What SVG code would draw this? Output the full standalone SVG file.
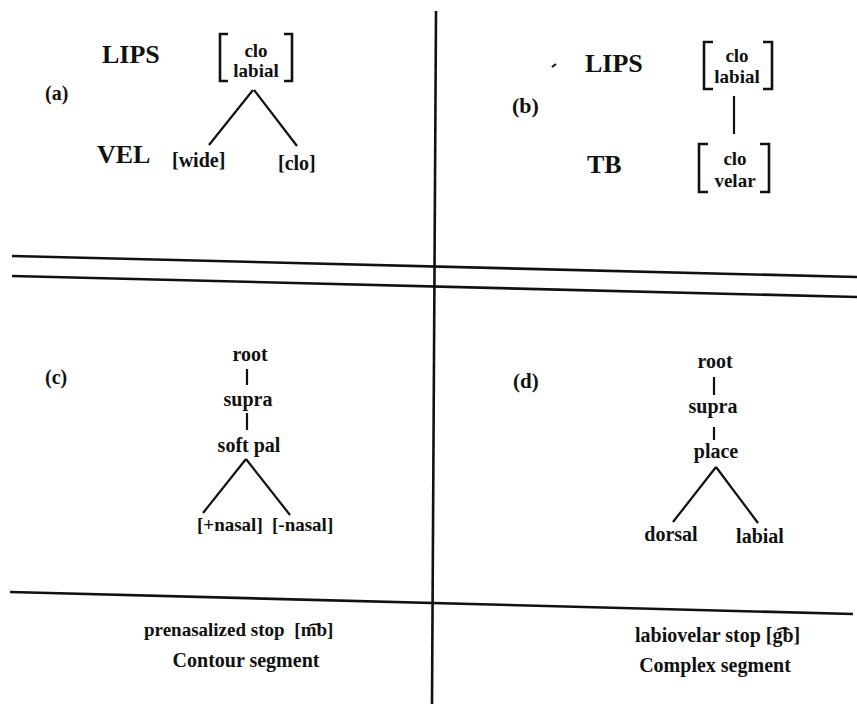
<svg xmlns="http://www.w3.org/2000/svg" width="857" height="704" viewBox="0 0 857 704">
<style>
text{font-family:"Liberation Serif","Times New Roman",serif;font-weight:bold;fill:#111}
.big{font-size:26px}
.lab{font-size:20px}
.tier{font-size:20px}
.feat{font-size:19px}
.br{fill:none;stroke:#111;stroke-width:2.6}
.edge{stroke:#111;stroke-width:2.2;fill:none}
.rule{stroke:#111;stroke-width:2.6;fill:none}
</style>
<rect width="857" height="704" fill="#fff"/>
<g id="rules">
<line class="rule" x1="436" y1="11" x2="432" y2="704"/>
<line class="rule" x1="12" y1="256" x2="857" y2="277"/>
<line class="rule" x1="12" y1="276" x2="857" y2="297"/>
<line class="rule" x1="10" y1="592" x2="853" y2="614"/>
</g>
<g id="connectors">
<line class="edge" x1="253" y1="90" x2="209" y2="145"/>
<line class="edge" x1="254" y1="90" x2="297" y2="146"/>
<line class="edge" x1="734" y1="96" x2="734" y2="134"/>
<line class="edge" x1="247" y1="369" x2="247" y2="385"/>
<line class="edge" x1="247" y1="413" x2="247" y2="430"/>
<line class="edge" x1="246" y1="459" x2="203" y2="513"/>
<line class="edge" x1="246" y1="459" x2="290" y2="515"/>
<line class="edge" x1="714" y1="377" x2="714" y2="395"/>
<line class="edge" x1="714" y1="427" x2="714" y2="440"/>
<line class="edge" x1="716" y1="467" x2="673" y2="522"/>
<line class="edge" x1="716" y1="467" x2="758" y2="523"/>
</g>
<g id="panel-a">
<text class="lab" x="45" y="100">(a)</text>
<g id="a-lips"><text class="big" x="102" y="63">LIPS</text></g>
<g id="a-vel"><text class="big" x="97" y="163">VEL</text></g>
<g id="a-clo-labial">
<path class="br" d="M228,34 H220 V81 H228"/>
<path class="br" d="M284,34 H292 V81 H284"/>
<text class="feat" x="256" y="57" text-anchor="middle">clo</text>
<text class="feat" x="256" y="77" text-anchor="middle">labial</text>
</g>
<g id="a-wide"><text class="tier" x="172" y="167">[wide]</text></g>
<g id="a-clo"><text class="tier" x="278" y="170">[clo]</text></g>
</g>
<g id="panel-b">
<path d="M552,67 L556,64" stroke="#111" stroke-width="2"/>
<text class="lab" x="512" y="113" style="font-size:22px">(b)</text>
<g id="b-lips"><text class="big" x="585" y="72">LIPS</text></g>
<g id="b-tb"><text class="big" x="587" y="173">TB</text></g>
<g id="b-clo-labial">
<path class="br" d="M713,42 H704 V89 H713"/>
<path class="br" d="M763,42 H772 V89 H763"/>
<text class="feat" x="737" y="62" text-anchor="middle">clo</text>
<text class="feat" x="737" y="83" text-anchor="middle">labial</text>
</g>
<g id="b-clo-velar">
<path class="br" d="M708,144 H699 V192 H708"/>
<path class="br" d="M760,144 H769 V192 H760"/>
<text class="feat" x="735" y="165" text-anchor="middle">clo</text>
<text class="feat" x="735" y="187" text-anchor="middle">velar</text>
</g>
</g>
<g id="panel-c">
<text class="lab" x="45" y="384">(c)</text>
<g id="c-root"><text class="tier" x="250" y="361" text-anchor="middle">root</text></g>
<g id="c-supra"><text class="tier" x="248" y="406" text-anchor="middle">supra</text></g>
<g id="c-softpal"><text class="tier" x="249" y="452" text-anchor="middle">soft pal</text></g>
<g id="c-plusnasal"><text class="tier" x="197" y="531" style="font-size:19px">[+nasal]</text></g>
<g id="c-minusnasal"><text class="tier" x="272" y="531" style="font-size:19px">[-nasal]</text></g>
</g>
<g id="panel-d">
<text class="lab" x="513" y="388" style="font-size:21px">(d)</text>
<g id="d-root"><text class="tier" x="715" y="368" text-anchor="middle">root</text></g>
<g id="d-supra"><text class="tier" x="713" y="413" text-anchor="middle">supra</text></g>
<g id="d-place"><text class="tier" x="716" y="458" text-anchor="middle">place</text></g>
<g id="d-dorsal"><text class="tier" x="671" y="541" text-anchor="middle">dorsal</text></g>
<g id="d-labial"><text class="tier" x="760" y="543" text-anchor="middle">labial</text></g>
</g>
<g id="captions">
<text class="tier" x="144" y="636" style="font-size:19px">prenasalized stop <tspan dx="5">[m͡b]</tspan></text>
<text class="tier" x="246" y="667" text-anchor="middle">Contour segment</text>
<text class="tier" x="635" y="642">labiovelar stop [g͡b]</text>
<text class="tier" x="715" y="672" text-anchor="middle">Complex segment</text>
</g>
</svg>
